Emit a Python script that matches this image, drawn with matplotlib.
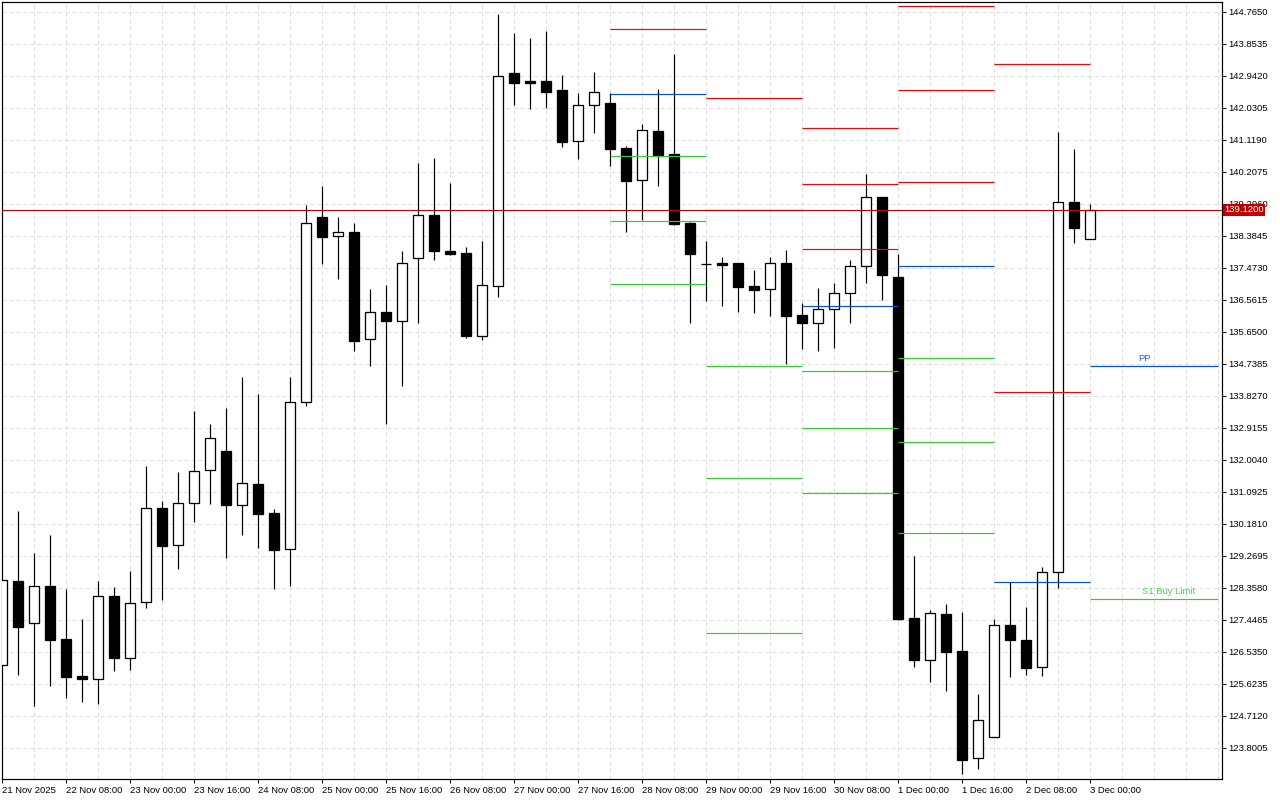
#!/usr/bin/env python3
# -*- coding: utf-8 -*-
"""
4H candlestick chart with daily pivot levels (MetaTrader style)
"""

import numpy as np
import matplotlib.pyplot as plt

# OHLC per 4H bar, first bar 21 Nov 2025 16:00
opens = [126.148, 128.549, 127.344, 128.398, 126.888, 125.834, 125.749, 128.113, 126.347, 127.942,
         130.620, 129.566, 130.762, 131.702, 132.252, 130.705, 131.312, 130.486, 129.452, 133.639,
         138.917, 138.367, 138.481, 135.433, 136.202, 135.963, 137.741, 138.965, 137.949, 137.883,
         135.519, 136.960, 143.019, 142.791, 142.791, 142.534, 141.073, 142.099, 142.164, 140.882,
         139.962, 141.367, 140.711, 138.746, 137.570, 137.607, 137.607, 136.952, 136.858, 137.607,
         136.126, 135.906, 136.288, 136.744, 137.513, 139.478, 137.208, 127.495, 126.290, 127.609,
         126.555, 123.499, 124.097, 127.287, 126.868, 126.091, 128.797, 139.344, 138.299]
highs = [128.569, 130.551, 129.346, 129.859, 128.321, 127.466, 128.549, 128.378, 128.834, 131.824,
         130.828, 131.654, 133.391, 133.021, 133.485, 134.360, 133.875, 130.600, 134.360, 139.259,
         139.800, 138.917, 138.746, 136.866, 136.980, 137.949, 140.455, 140.598, 139.885, 138.062,
         138.233, 144.699, 144.167, 144.016, 144.215, 142.962, 142.449, 143.047, 142.449, 140.948,
         141.566, 142.563, 143.560, 138.783, 138.233, 137.778, 137.607, 137.407, 137.778, 137.977,
         136.467, 136.895, 137.037, 137.701, 140.142, 139.478, 137.863, 129.269, 127.723, 127.902,
         127.666, 125.330, 127.466, 128.512, 127.808, 128.948, 141.338, 140.854, 139.287]
lows = [126.148, 125.871, 124.997, 125.566, 125.225, 125.111, 125.054, 125.994, 126.022, 127.788,
        128.008, 128.899, 130.229, 130.751, 129.213, 129.868, 129.497, 128.330, 128.415, 133.542,
        137.587, 137.160, 135.109, 134.681, 133.029, 134.112, 135.906, 137.701, 137.843, 135.479,
        135.422, 136.647, 142.116, 142.002, 142.030, 140.919, 140.578, 141.318, 140.378, 138.498,
        138.832, 139.809, 138.689, 135.906, 136.533, 136.391, 136.220, 136.191, 136.106, 134.738,
        135.166, 135.109, 135.194, 135.906, 137.046, 136.561, 127.446, 126.108, 125.681, 125.424,
        123.060, 123.202, 124.097, 125.823, 125.871, 125.843, 128.358, 138.185, 138.282]
closes = [128.569, 127.247, 128.398, 126.877, 125.823, 125.749, 128.113, 126.364, 127.914, 130.620,
          129.554, 130.762, 131.674, 132.613, 130.722, 131.340, 130.466, 129.440, 133.639, 138.746,
          138.356, 138.481, 135.394, 136.202, 135.963, 137.598, 138.965, 137.957, 137.872, 135.536,
          136.971, 142.925, 142.742, 142.742, 142.486, 141.062, 142.099, 142.469, 140.862, 139.951,
          141.387, 140.692, 138.726, 137.872, 137.570, 137.550, 136.932, 136.846, 137.598, 136.106,
          135.906, 136.288, 136.744, 137.513, 139.478, 137.273, 127.466, 126.307, 127.629, 126.535,
          123.459, 124.581, 127.287, 126.860, 126.079, 128.797, 139.336, 138.604, 139.120]

# daily pivot segments (bar index where each day starts / ends)
day_start = [38, 44, 50, 56, 62, 68]
day_end = [44, 50, 56, 62, 68, 76]
resist_levels = [[144.264], [142.298], [141.444, 139.849, 137.997],
                 [144.927, 142.526, 139.906], [143.275, 133.924], []]
pivot_levels = [142.412, 139.108, 136.374, 137.513, 128.512, 134.664]
support_levels = [[140.646, 138.795, 137.000], [134.664, 131.474, 127.059],
                  [134.522, 132.898, 131.047], [134.892, 132.500, 129.908], [], [128.028]]

current_price = 139.12

price_ticks = [144.7650, 143.8535, 142.9420, 142.0305, 141.1190, 140.2075, 139.2960,
               138.3845, 137.4730, 136.5615, 135.6500, 134.7385, 133.8270, 132.9155,
               132.0040, 131.0925, 130.1810, 129.2695, 128.3580, 127.4465, 126.5350,
               125.6235, 124.7120, 123.8005]
time_ticks = list(range(0, 69, 4))
time_labels = ['21 Nov 2025', '22 Nov 08:00', '23 Nov 00:00', '23 Nov 16:00', '24 Nov 08:00',
               '25 Nov 00:00', '25 Nov 16:00', '26 Nov 08:00', '27 Nov 00:00', '27 Nov 16:00',
               '28 Nov 08:00', '29 Nov 00:00', '29 Nov 16:00', '30 Nov 08:00', '1 Dec 00:00',
               '1 Dec 16:00', '2 Dec 08:00', '3 Dec 00:00']


def plot_chart():
    plt.rcParams['font.family'] = ['Liberation Sans', 'DejaVu Sans']
    px = 0.72  # one pixel in points at dpi 100

    fig = plt.figure(figsize=(12.8, 8), dpi=100)
    ax = fig.add_axes([2 / 1280, 21 / 800, 1220 / 1280, 777 / 800])
    ax.set_xlim(0, 76.25)
    ax.set_ylim(122.909, 145.041)

    # grid
    ax.set_xticks(np.arange(0, 77, 2), minor=True)
    ax.grid(True, which='both', axis='x', color='#dcdcdc', lw=px, dashes=(4, 3))
    ax.grid(True, which='major', axis='y', color='#dcdcdc', lw=px, dashes=(4, 3))
    ax.set_axisbelow(True)

    # candles
    x = np.arange(len(opens))
    o = np.array(opens)
    c = np.array(closes)
    ax.vlines(x, lows, highs, color='black', lw=px * 1.2, zorder=2)
    colors = ['white' if cc >= oo else 'black' for oo, cc in zip(o, c)]
    ax.bar(x, np.abs(c - o), bottom=np.minimum(o, c), width=0.64, color=colors,
           edgecolor='black', linewidth=px * 1.3, zorder=3)

    # pivot levels
    for i in range(len(day_start)):
        x0, x1 = day_start[i], day_end[i]
        for lv in resist_levels[i]:
            ax.hlines(lv, x0, x1, color='#ff0000', lw=px * 1.2, zorder=4)
        ax.hlines(pivot_levels[i], x0, x1, color='#0050dc', lw=px * 1.2, zorder=4)
        for lv in support_levels[i]:
            ax.hlines(lv, x0, x1, color='#33cc33', lw=px * 1.2, zorder=4)

    ax.text(71.4, pivot_levels[-1] + 0.09, 'PP', color='#2a5ee8', fontsize=6.8,
            ha='center', va='bottom', zorder=5)
    ax.text(72.9, support_levels[-1][0] + 0.1, 'S1 Buy Limit', color='#44d844', fontsize=6.8,
            ha='center', va='bottom', zorder=5)

    # current price
    ax.axhline(current_price, color='#c00000', lw=px * 1.1, zorder=4)
    ax.text(1.002, current_price, '%.4f' % current_price, transform=ax.get_yaxis_transform(),
            color='white', fontsize=6.8, ha='left', va='center', clip_on=False, zorder=6,
            bbox=dict(boxstyle='square,pad=0.15', facecolor='#c00000', edgecolor='none'))

    # axes
    ax.yaxis.tick_right()
    ax.set_yticks(price_ticks)
    ax.set_yticklabels(['%.4f' % t for t in price_ticks])
    ax.set_xticks(time_ticks)
    ax.set_xticklabels(time_labels)
    for lab in ax.get_xticklabels():
        lab.set_horizontalalignment('left')
    ax.tick_params(axis='x', which='major', length=3, width=px, pad=2, labelsize=6.8)
    ax.tick_params(axis='x', which='minor', length=0)
    ax.tick_params(axis='y', length=3, width=px, pad=1.5, labelsize=6.8)
    for sp in ax.spines.values():
        sp.set_linewidth(px * 1.2)
        sp.set_color('black')

    fig.savefig('out.png', dpi=100)


if __name__ == "__main__":
    plot_chart()
